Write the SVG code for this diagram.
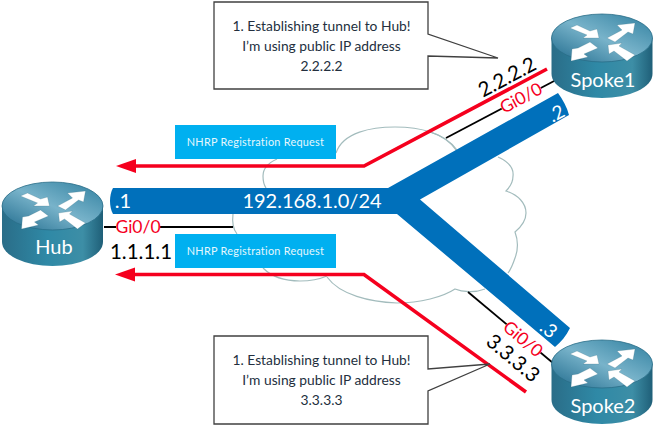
<svg xmlns="http://www.w3.org/2000/svg" width="655" height="428" viewBox="0 0 655 428">
<style>
text{font-family:Lato,"Liberation Sans",sans-serif}
.cloud{fill:none;stroke:#a3bcbd;stroke-width:1.2}
.red{fill:none;stroke:#f5001e;stroke-width:3.6}
.blk{fill:none;stroke:#000;stroke-width:1.8}
.box{fill:#00b0f0}
.boxt{fill:#e6f7fd;font-size:10.9px;text-anchor:middle;letter-spacing:.25px}
.call{fill:#fff;stroke:#404040;stroke-width:1.3}
.callt{fill:#232f3e;font-size:13.8px;text-anchor:middle}
.gi{fill:#f5001e;font-size:17.5px;text-anchor:middle}
.ip{fill:#000;font-size:20.500px;text-anchor:middle}
.wt{fill:#fff;text-anchor:middle}
.rt{fill:#fff;font-size:20px;text-anchor:middle}
.arr{fill:#fff;stroke:#2b6478;stroke-opacity:.35;stroke-width:.6}
</style>
<defs>
<linearGradient id="side" x1="0" x2="1" y1="0" y2="0"><stop offset="0" stop-color="#2a6d88"/><stop offset=".45" stop-color="#2f89a6"/><stop offset=".8" stop-color="#3d8ea6"/><stop offset="1" stop-color="#1f5f78"/></linearGradient>
<linearGradient id="top" x1="0" x2="1" y1="1" y2="0"><stop offset="0" stop-color="#1f6a8c"/><stop offset=".5" stop-color="#78b3ca"/><stop offset="1" stop-color="#2f7f9f"/></linearGradient>
<g id="router">
<path d="M-50.500 0V36A50.500 24 0 0 0 50.500 36V0Z" fill="url(#side)"/>
<ellipse rx="50.500" ry="24" fill="url(#top)" stroke="#2a6d88" stroke-width=".8"/>
<polygon class="arr" points="5,0 20,-8 15,-13 33,-15 31,-4 26,-6 13,4"/>
<polygon class="arr" points="-12,4 -24,10 -30,11 -31,23 -14,19 -18,16 -4,10"/>
<polygon class="arr" points="-32,-10 -25,-13 -12,-7 -5,-9 -3,0 -19,0 -15,-3"/>
<polygon class="arr" points="6,7 20,5 17,8 33,17 25,23 12,13 7,16"/>
</g>
<polygon id="head" points="0,0 20,-7 20,7" fill="#f5001e"/>
</defs>
<g id="cloud">
<path class="cloud" d="M336 153C343 132 372 127 395 127C420 127 445 133 456 150"/>
<path class="cloud" d="M430 132C441 135 451 142 457 150"/>
<path class="cloud" d="M498 157C509 162 514 168 513 176C513 182 510 187 506 191C518 195 526 203 526 213C526 221 521 227 515 232C518 240 518 250 515 258C513 264 511 269 508 273"/>
<path class="cloud" d="M277 159C268 163 263 168 263 176C263 181 264 185 266 188"/>
<path class="cloud" d="M233 214C232 222 233 229 237 234"/>
<path class="cloud" d="M263 268C272 277 285 281 300 281C310 281 320 279 327 276"/>
<path class="cloud" d="M327 277C340 295 370 302 397 303C420 303 443 297 455 289C462 292 475 293 485 289"/>
</g>
<g id="connectors">
<path class="blk" d="M104 227H233"/>
<path class="blk" d="M446 138L556 80"/>
<path class="blk" d="M468 292L553 363"/>
<path fill="#0070bb" d="M113 188H388L558 93C563 100 567 107 569 115L420 199.500L570 328C566 336 561 342 555 347L397 214H113C109 207 109 195 113 188Z"/>
<path class="red" d="M130 166H364L547 69"/>
<path class="red" d="M130 274.500H364L526 392"/>
<use href="#head" x="116" y="166"/>
<use href="#head" x="115" y="274.500"/>
</g>
<text class="wt" x="312" y="208" font-size="20">192.168.1.0/24</text>
<text class="wt" x="123" y="208" font-size="20">.1</text>
<text class="wt" font-size="19" transform="translate(556 113) rotate(-28) translate(0 7)">.2</text>
<text class="wt" font-size="19" transform="translate(549 329) rotate(40) translate(0 7)">.3</text>
<g id="labels">
<rect x="116" y="219" width="44" height="16" fill="#fff"/>
<text class="gi" x="138" y="233">Gi0/0</text>
<text class="ip" x="141" y="259">1.1.1.1</text>
<g transform="translate(521 98) rotate(-28)"><rect x="-22" y="-7" width="44" height="14" fill="#fff"/><text class="gi" y="6">Gi0/0</text></g>
<text class="ip" transform="translate(507 77) rotate(-28) translate(0 7)">2.2.2.2</text>
<g transform="translate(523 339) rotate(40)"><rect x="-22" y="-7" width="44" height="14" fill="#fff"/><text class="gi" y="6">Gi0/0</text></g>
<text class="ip" transform="translate(513 358) rotate(40) translate(0 7)">3.3.3.3</text>
</g>
<g id="nhrp1"><rect class="box" x="175" y="125" width="161" height="34"/><text class="boxt" x="255.500" y="146">NHRP Registration Request</text></g>
<g id="nhrp2"><rect class="box" x="175" y="234" width="161" height="34"/><text class="boxt" x="255.500" y="255">NHRP Registration Request</text></g>
<g id="hub"><use href="#router" x="52.500" y="206"/><text class="rt" x="54" y="254">Hub</text></g>
<g id="spoke1"><use href="#router" x="602" y="38"/><text class="rt" x="603" y="87">Spoke1</text></g>
<g id="spoke2"><use href="#router" x="602" y="364"/><text class="rt" x="603" y="413">Spoke2</text></g>
<g id="callout1"><path class="call" d="M214 2H428V34L498 58L428 56V89H214Z"/>
<text class="callt" x="321.500" y="31">1. Establishing tunnel to Hub!</text>
<text class="callt" x="321.500" y="51">I’m using public IP address</text>
<text class="callt" x="321.500" y="71">2.2.2.2</text></g>
<g id="callout2"><path class="call" d="M214 336H428V369L490 364L428 391V424H214Z"/>
<text class="callt" x="321.500" y="365">1. Establishing tunnel to Hub!</text>
<text class="callt" x="321.500" y="385">I’m using public IP address</text>
<text class="callt" x="321.500" y="405">3.3.3.3</text></g>
</svg>
